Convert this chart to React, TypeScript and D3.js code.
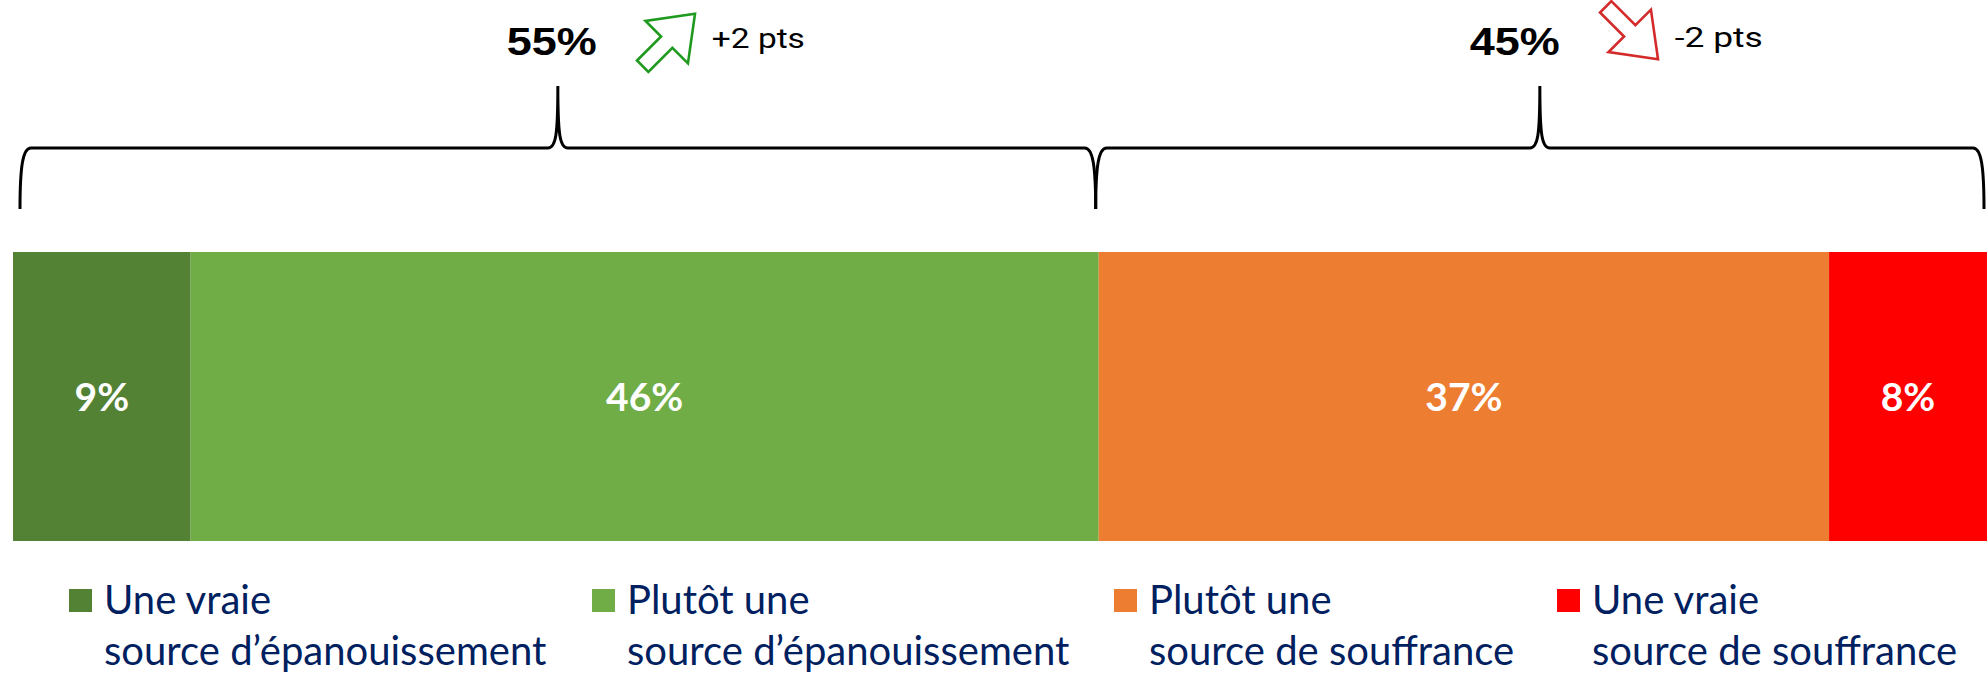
import React from "react";
import * as d3 from "d3";

// chart data
const categories = [
  ["Une vraie", "source d’épanouissement"],
  ["Plutôt une", "source d’épanouissement"],
  ["Plutôt une", "source de souffrance"],
  ["Une vraie", "source de souffrance"],
];
const values = [9, 46, 37, 8];
const colors = ["#548235", "#70AD47", "#ED7D31", "#FF0000"];
const groupMembers = [[0, 1], [2, 3]];
const groupChanges = ["+2 pts", "-2 pts"];
const changeColors = ["#1f9a1f", "#d42a2a"];
const changeDir = [-45, 45];

// layout
const W = 1987;
const H = 675;
const barTop = 252;
const barBottom = 541;
const braceTop = 148;
const braceFoot = 209;
const bracePeak = 86;
const legendX = [104, 627, 1149, 1592];
const groupShift = [0, -19];

const x = d3.scaleLinear().domain([0, 100]).range([13, W]);

const starts = values.map((_, i) => d3.sum(values.slice(0, i)));

function bracePath(x0: number, x1: number) {
  const pk = (x0 + x1) / 2;
  const p = d3.path();
  p.moveTo(x0, braceFoot);
  p.bezierCurveTo(x0, 165, x0 + 3, braceTop, x0 + 11, braceTop);
  p.lineTo(pk - 10, braceTop);
  p.bezierCurveTo(pk - 2, braceTop, pk, 135, pk, bracePeak);
  p.bezierCurveTo(pk, 135, pk + 2, braceTop, pk + 10, braceTop);
  p.lineTo(x1 - 11, braceTop);
  p.bezierCurveTo(x1 - 3, braceTop, x1, 165, x1, braceFoot);
  return p.toString();
}

function arrowPath(L: number, hl: number, hw: number, sw: number) {
  const pts: [number, number][] = [
    [-L / 2, -sw],
    [L / 2 - hl, -sw],
    [L / 2 - hl, -hw],
    [L / 2, 0],
    [L / 2 - hl, hw],
    [L / 2 - hl, sw],
    [-L / 2, sw],
  ];
  return d3.line()(pts) + "Z";
}

export default function App() {
  return (
    <svg
      width={W}
      height={H}
      style={{ position: "absolute", left: 0, top: 0, background: "#fff" }}
    >
      {values.map((v, i) => (
        <g key={i}>
          <rect
            x={x(starts[i])}
            y={barTop}
            width={x(starts[i] + v) - x(starts[i])}
            height={barBottom - barTop}
            fill={colors[i]}
          />
          <text
            x={(x(starts[i]) + x(starts[i] + v)) / 2}
            y={(barTop + barBottom) / 2 + 14}
            textAnchor="middle"
            fill="#fff"
            fontFamily="Lato, sans-serif"
            fontWeight="bold"
            fontSize={39}
          >
            {v}%
          </text>
        </g>
      ))}

      {groupMembers.map((m, g) => {
        const a = starts[m[0]];
        const b = starts[m[m.length - 1]] + values[m[m.length - 1]];
        const x0 = g === 0 ? x(a) + 7 : x(a) - 3;
        const x1 = g === 0 ? x(b) - 3 : x(b) - 3;
        const pk = (x0 + x1) / 2 + groupShift[g];
        const total = d3.sum(m.map((k) => values[k]));
        return (
          <g key={g}>
            <path
              d={bracePath(x0, x1)}
              fill="none"
              stroke="#000"
              strokeWidth={3}
            />
            <text
              x={pk - 6}
              y={55}
              textAnchor="middle"
              fontFamily="Liberation Sans, Arial, sans-serif"
              fontWeight="bold"
              fontSize={39}
              textLength={90}
              lengthAdjust="spacingAndGlyphs"
            >
              {total}%
            </text>
            <path
              d={arrowPath(74, 40, 30, 8)}
              transform={`translate(${pk + 111},${g === 0 ? 40 : 33}) rotate(${changeDir[g]})`}
              fill="#fff"
              stroke={changeColors[g]}
              strokeWidth={2.6}
              strokeLinejoin="miter"
            />
            <text
              x={pk + 154}
              y={g === 0 ? 48 : 47}
              fontFamily="Roboto, sans-serif"
              fontSize={27}
              textLength={g === 0 ? 93 : 88}
              lengthAdjust="spacingAndGlyphs"
            >
              {groupChanges[g]}
            </text>
          </g>
        );
      })}

      {categories.map((lines, i) => (
        <g key={i}>
          <rect
            x={legendX[i] - 35}
            y={589}
            width={23}
            height={23}
            fill={colors[i]}
          />
          {lines.map((t, j) => (
            <text
              key={j}
              x={legendX[i]}
              y={614 + j * 51}
              fill="#002060"
              fontFamily="Lato, sans-serif"
              fontSize={40}
            >
              {t}
            </text>
          ))}
        </g>
      ))}
    </svg>
  );
}
